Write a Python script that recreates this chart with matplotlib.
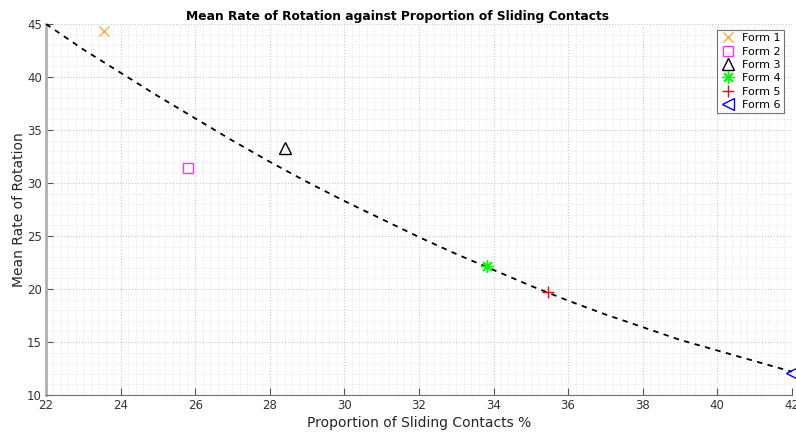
import matplotlib.pyplot as plt
import numpy as np
from matplotlib.ticker import MultipleLocator

plt.rcParams['font.family'] = ['DejaVu Sans']

# fitted trend line
fit_x = [22, 23, 24, 25, 26, 27, 28, 29, 30, 31, 32,
         33, 34, 35, 36, 37, 38, 39, 40, 41, 42]
fit_y = [45.0, 42.6, 40.4, 38.2, 36.1, 34.0, 32.0, 30.1, 28.3, 26.6, 24.9,
         23.3, 21.8, 20.3, 18.9, 17.6, 16.4, 15.2, 14.2, 13.2, 12.2]

# measured forms
forms = ['Form 1', 'Form 2', 'Form 3', 'Form 4', 'Form 5', 'Form 6']
sliding = [23.55, 25.8, 28.4, 33.82, 35.46, 42.0]
rotation = [44.3, 31.4, 33.3, 22.2, 19.7, 12.1]

markers = ['x', 's', '^', (8, 2, 0), '+', '<']
colours = ['#f0b040', '#ff33ff', 'black', '#00ff00', '#ff0000', '#0000ff']
sizes = [7, 7, 9, 9, 9, 9]

fig = plt.figure(figsize=(7.96, 4.34), dpi=100)
ax = fig.add_axes([0.0578, 0.0899, 0.937, 0.8548])

ax.plot(fit_x, fit_y, 'k--', lw=1.3, dashes=(3, 3), zorder=3)
for i in range(len(forms)):
    ax.plot(sliding[i], rotation[i], linestyle='none', marker=markers[i],
            color=colours[i], mfc='none', ms=sizes[i], mew=1.0,
            label=forms[i], zorder=4, clip_on=False)

ax.set_xlim(22, 42)
ax.set_ylim(10, 45)
ax.xaxis.set_major_locator(MultipleLocator(2))
ax.xaxis.set_minor_locator(MultipleLocator(0.2))
ax.yaxis.set_major_locator(MultipleLocator(5))
ax.yaxis.set_minor_locator(MultipleLocator(1))
ax.grid(which='major', ls=':', color='#c8c8c8', lw=0.8)
ax.grid(which='minor', ls=':', color='#e4e4e4', lw=0.7)
ax.set_axisbelow(True)

for s in ['top', 'right']:
    ax.spines[s].set_visible(False)
ax.spines['left'].set_color('#b0b0b0')
ax.spines['left'].set_linewidth(2)
ax.spines['bottom'].set_color('#707070')
ax.tick_params(which='major', direction='in', length=5, colors='#555555',
               labelcolor='#333333', labelsize=8.5, pad=3)
ax.tick_params(which='minor', length=0)

ax.set_xlabel('Proportion of Sliding Contacts %', fontsize=10, color='#262626',
              labelpad=3)
ax.set_ylabel('Mean Rate of Rotation', fontsize=10, color='#262626', labelpad=1)
fig.text(0.5, 0.962, 'Mean Rate of Rotation against Proportion of Sliding Contacts',
         fontsize=8.8, fontweight='bold', ha='center', va='center')

leg = ax.legend(loc='upper right', bbox_to_anchor=(0.992, 0.99), fontsize=8,
                fancybox=False, framealpha=1, edgecolor='#707070',
                handlelength=1.4, handletextpad=0.5, borderpad=0.3,
                labelspacing=0.3, borderaxespad=0.2)
leg.get_frame().set_linewidth(0.8)

fig.savefig('out.png', dpi=100)
